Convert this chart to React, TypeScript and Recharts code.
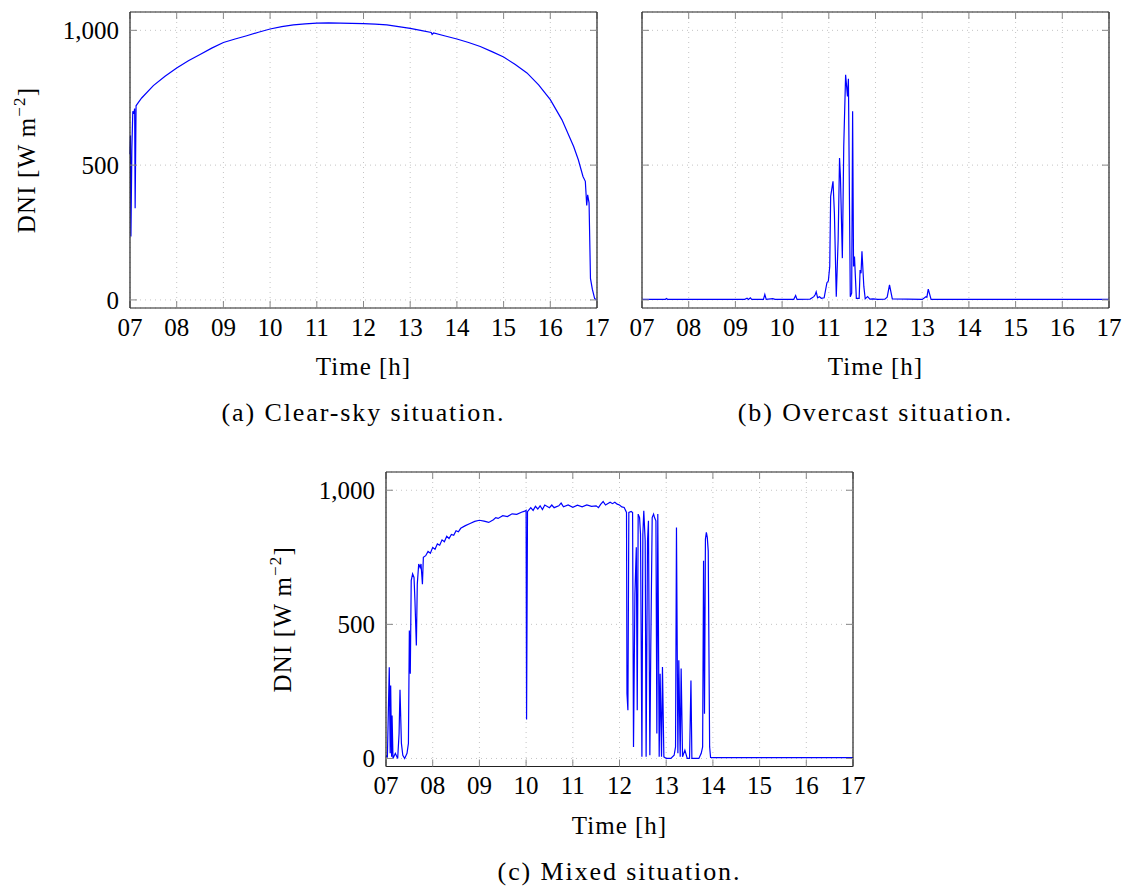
import React from "react";
import { LineChart, Line, XAxis, YAxis, CartesianGrid } from "recharts";

const hourTicks = [7, 8, 9, 10, 11, 12, 13, 14, 15, 16, 17];
const dniTicks = [0, 500, 1000];

// (a) clear-sky day
const clearTime = [
  7.0, 7.01, 7.02, 7.04, 7.06, 7.08, 7.1, 7.11, 7.13, 7.15,
  7.25, 7.5, 7.75, 8, 8.25, 8.5, 8.75, 9, 9.25, 9.5,
  9.75, 10, 10.25, 10.5, 10.75, 11, 11.25, 11.5, 11.75, 12,
  12.25, 12.5, 12.75, 13, 13.25, 13.45, 13.47, 13.5, 13.75, 14,
  14.25, 14.5, 14.75, 15, 15.25, 15.5, 15.75, 16, 16.25, 16.5,
  16.6, 16.7, 16.75, 16.78, 16.8, 16.83, 16.86, 16.9, 16.95, 17,
];
const clearDni = [
  540, 610, 235, 560, 700, 690, 710, 340, 720, 725,
  749, 795, 830, 860, 887, 910, 934, 955, 968, 980,
  993, 1005, 1014, 1020, 1024, 1027, 1028, 1027, 1026, 1025,
  1023, 1020, 1014, 1007, 999, 992, 985, 990, 979, 968,
  955, 940, 921, 901, 873, 842, 798, 743, 668, 569,
  520, 458, 440, 350, 390, 360, 80, 40, 5, 0,
];

// (b) overcast day
const overcastTime = [
  7.0, 7.5, 7.52, 7.55, 9.2, 9.25, 9.28, 9.32, 9.35, 9.6,
  9.63, 9.66, 9.8, 9.85, 10.25, 10.29, 10.32, 10.6, 10.68, 10.71,
  10.73, 10.76, 10.8, 10.84, 10.9, 10.96, 10.99, 11.02, 11.04, 11.09,
  11.12, 11.16, 11.2, 11.23, 11.25, 11.29, 11.32, 11.36, 11.4, 11.42,
  11.46, 11.49, 11.51, 11.53, 11.55, 11.59, 11.65, 11.67, 11.69, 11.71,
  11.75, 11.78, 11.83, 11.88, 11.95, 12.05, 12.2, 12.25, 12.3, 12.36,
  13.0, 13.08, 13.1, 13.13, 13.19, 17.0,
];
const overcastDni = [
  2, 2, 5, 2, 2, 6, 2, 8, 2, 2,
  20, 2, 5, 2, 2, 16, 2, 3, 12, 20,
  30, 8, 12, 6, 8, 64, 70, 124, 384, 440,
  322, 12, 223, 526, 452, 155, 570, 835, 755, 820,
  12, 25, 700, 124, 161, 6, 6, 111, 99, 180,
  50, 4, 12, 3, 4, 2, 3, 10, 56, 4,
  2, 12, 10, 40, 2, 2,
];

// (c) mixed day
const mixedTime = [
  7.0, 7.03, 7.07, 7.09, 7.1, 7.12, 7.13, 7.15, 7.2, 7.25,
  7.28, 7.3, 7.33, 7.36, 7.4, 7.45, 7.48, 7.5, 7.52, 7.54,
  7.57, 7.6, 7.62, 7.65, 7.67, 7.7, 7.73, 7.75, 7.78, 7.8,
  7.85, 7.9, 7.95, 8.0, 8.05, 8.1, 8.15, 8.2, 8.25, 8.3,
  8.35, 8.4, 8.45, 8.5, 8.55, 8.6, 8.7, 8.8, 8.9, 9.0,
  9.1, 9.2, 9.3, 9.35, 9.4, 9.5, 9.6, 9.7, 9.8, 9.9,
  9.97, 10.0, 10.01, 10.03, 10.1, 10.15, 10.2, 10.25, 10.3, 10.35,
  10.4, 10.5, 10.55, 10.6, 10.7, 10.75, 10.8, 10.9, 11.0, 11.1,
  11.2, 11.3, 11.4, 11.5, 11.55, 11.6, 11.65, 11.7, 11.8, 11.85,
  11.9, 11.95, 12.0, 12.05, 12.1, 12.15, 12.16, 12.18, 12.2, 12.25,
  12.28, 12.3, 12.33, 12.36, 12.38, 12.4, 12.43, 12.45, 12.48, 12.5,
  12.52, 12.55, 12.57, 12.6, 12.62, 12.65, 12.67, 12.7, 12.73, 12.75,
  12.78, 12.8, 12.82, 12.85, 12.87, 12.9, 12.92, 12.95, 13.0, 13.1,
  13.17, 13.2, 13.22, 13.25, 13.27, 13.3, 13.32, 13.35, 13.4, 13.45,
  13.5, 13.53, 13.55, 13.7, 13.75, 13.78, 13.8, 13.82, 13.84, 13.86,
  13.88, 13.9, 13.93, 13.95, 14.0, 17.0,
];
const mixedDni = [
  10, 6, 340, 19, 272, 6, 160, 0, 19, 0,
  93, 256, 56, 12, 0, 19, 56, 477, 316, 663,
  688, 675, 588, 421, 650, 725, 712, 725, 650, 750,
  756, 772, 765, 787, 780, 800, 795, 815, 808, 828,
  820, 835, 832, 849, 845, 858, 868, 876, 884, 888,
  885, 880, 890, 898, 895, 905, 902, 912, 910, 918,
  922, 925, 145, 920, 935, 925, 940, 930, 942, 928,
  945, 935, 945, 935, 942, 952, 938, 945, 936, 944,
  938, 945, 940, 942, 935, 948, 958, 945, 955, 950,
  955, 948, 945, 938, 936, 917, 242, 180, 917, 921,
  917, 43, 613, 787, 180, 911, 898, 836, 6, 836,
  923, 812, 6, 812, 886, 12, 415, 898, 911, 898,
  886, 93, 911, 6, 316, 6, 341, 6, 0, 0,
  12, 43, 861, 19, 366, 6, 335, 6, 31, 0,
  0, 291, 0, 0, 19, 43, 737, 167, 818, 843,
  824, 774, 43, 4, 3, 3,
];

const serif = "'Liberation Serif', 'DejaVu Serif', serif";
const fmtHour = (h: number) => String(h).padStart(2, "0");
const fmtDni = (v: number) => v.toLocaleString("en-US");
const blank = () => "";

function YTitle({ viewBox }: any) {
  const cx = viewBox.x + viewBox.width - 103;
  const cy = viewBox.y + viewBox.height / 2;
  return (
    <text
      x={cx}
      y={cy + 8}
      transform={`rotate(-90 ${cx} ${cy})`}
      textAnchor="middle"
      fontFamily={serif}
      fontSize={25}
      letterSpacing={1.2}
      fill="#000"
    >
      DNI [W{"\u2009"}m
      <tspan dy={-10} fontSize={17}>
        −2
      </tspan>
      <tspan dy={10}>]</tspan>
    </text>
  );
}

function XTitle({ viewBox, caption }: any) {
  const cx = viewBox.x + viewBox.width / 2;
  return (
    <g fontFamily={serif} fill="#000">
      <text x={cx} y={viewBox.y + 67} textAnchor="middle" fontSize={25} letterSpacing={1}>
        Time [h]
      </text>
      <text x={cx} y={viewBox.y + 113} textAnchor="middle" fontSize={26} letterSpacing={1.9}>
        {caption}
      </text>
    </g>
  );
}

function Panel({ plotLeft, plotTop, plotH, time, dni, labelled, caption }: any) {
  const data = time.map((t: number, i: number) => ({ t, v: dni[i] }));
  const yw = labelled ? 130 : 20;
  const tickStyle = { fill: "#000", fontSize: 25, fontFamily: serif };
  const frame = { stroke: "#222", strokeWidth: 1.2 };
  const tickLine = { stroke: "#888" };
  return (
    <div style={{ position: "absolute", left: plotLeft - yw, top: plotTop - 12 }}>
      <LineChart
        width={yw + 467 + 17}
        height={12 + plotH + 130}
        data={data}
        margin={{ top: 11, right: 16, bottom: 0, left: 0 }}
      >
        <CartesianGrid stroke="#c4c4c4" strokeDasharray="1 4" />
        <XAxis
          dataKey="t"
          type="number"
          domain={[7, 17]}
          ticks={hourTicks}
          interval={0}
          tickFormatter={fmtHour}
          height={130}
          axisLine={frame}
          tickLine={tickLine}
          tickSize={-7}
          tickMargin={17}
          tick={tickStyle}
          label={<XTitle caption={caption} />}
        />
        <XAxis
          xAxisId="top"
          orientation="top"
          dataKey="t"
          type="number"
          domain={[7, 17]}
          ticks={hourTicks}
          interval={0}
          tickFormatter={blank}
          height={1}
          axisLine={frame}
          tickLine={tickLine}
          tickSize={-7}
        />
        <YAxis
          dataKey="v"
          type="number"
          domain={[-30, 1068]}
          ticks={dniTicks}
          interval={0}
          tickFormatter={labelled ? fmtDni : blank}
          width={yw}
          axisLine={frame}
          tickLine={tickLine}
          tickSize={-7}
          tickMargin={18}
          tick={tickStyle}
          label={labelled ? <YTitle /> : undefined}
        />
        <YAxis
          yAxisId="right"
          orientation="right"
          dataKey="v"
          type="number"
          domain={[-30, 1068]}
          ticks={dniTicks}
          interval={0}
          tickFormatter={blank}
          width={1}
          axisLine={frame}
          tickLine={tickLine}
          tickSize={-7}
        />
        <Line
          type="linear"
          dataKey="v"
          stroke="#0000ff"
          strokeWidth={1.2}
          dot={false}
          isAnimationActive={false}
        />
      </LineChart>
    </div>
  );
}

export default function App() {
  return (
    <div
      style={{
        position: "absolute",
        left: 0,
        top: 0,
        width: 1130,
        height: 888,
        background: "#fff",
      }}
    >
      <Panel
        plotLeft={130}
        plotTop={12}
        plotH={296}
        time={clearTime}
        dni={clearDni}
        labelled
        caption="(a) Clear-sky situation."
      />
      <Panel
        plotLeft={642}
        plotTop={12}
        plotH={296}
        time={overcastTime}
        dni={overcastDni}
        labelled={false}
        caption="(b) Overcast situation."
      />
      <Panel
        plotLeft={386}
        plotTop={471.5}
        plotH={294.5}
        time={mixedTime}
        dni={mixedDni}
        labelled
        caption="(c) Mixed situation."
      />
    </div>
  );
}
